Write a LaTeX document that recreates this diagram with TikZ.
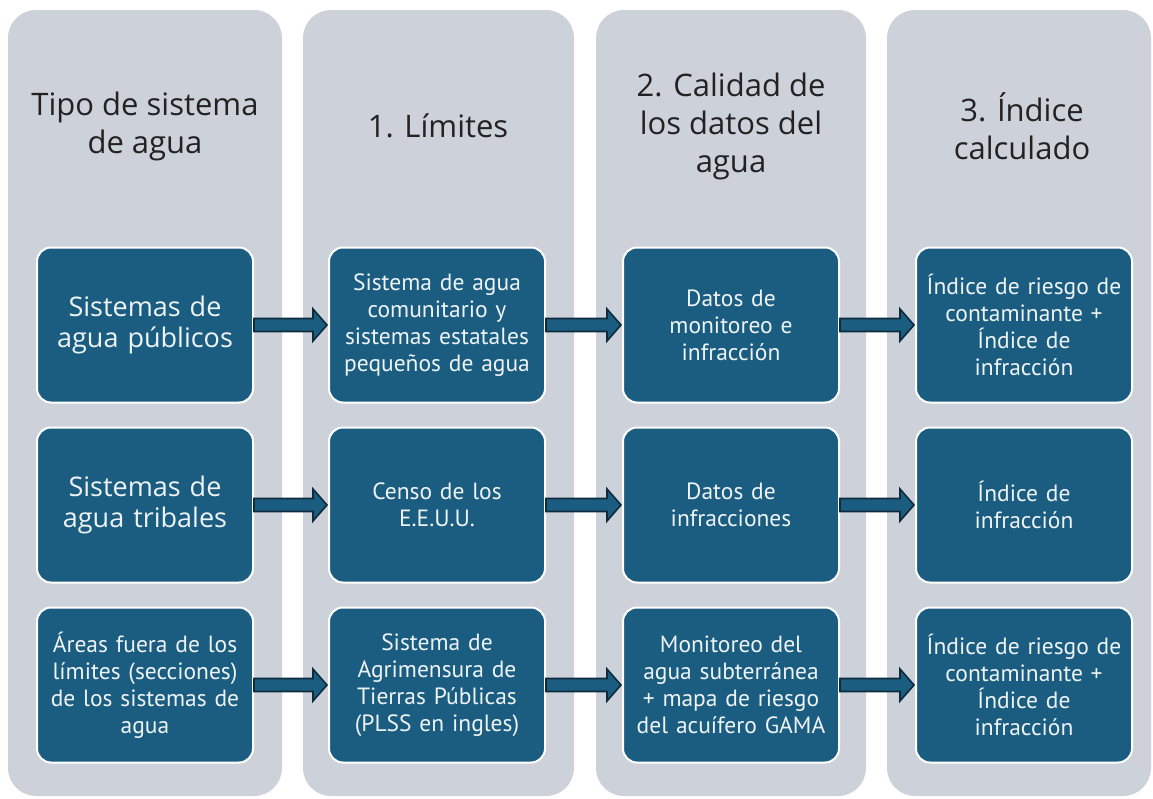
\documentclass[tikz,border=0pt]{standalone}
\usepackage{fontspec}
\setmainfont{Open Sans}
\newfontfamily\boxfont{PT Sans}
\usetikzlibrary{calc}
\definecolor{colbg}{HTML}{CDD2DA}
\definecolor{boxfill}{HTML}{1A5D80}
\definecolor{boxtext}{HTML}{EEF3F6}
\definecolor{headtext}{HTML}{222222}
\definecolor{arrowline}{HTML}{0E2B3C}
\tikzset{
  column/.style={fill=colbg, draw=none, rounded corners=28pt},
  header/.style={text=headtext, align=center, font=\fontsize{31}{38}\selectfont},
  stepbox/.style={fill=boxfill, draw=white, line width=2pt, rounded corners=14pt,
    minimum width=216pt, minimum height=155pt, text width=210pt, align=center,
    text=boxtext, inner sep=0pt},
  smalltext/.style={font=\boxfont\fontsize{23.5}{27}\selectfont},
  bigtext/.style={font=\fontsize{27}{31}\selectfont},
  blockarrow/.style={fill=boxfill, draw=arrowline, line width=1.6pt, line join=miter},
}
\newcommand{\blockarr}[2]{%
  \path (#1.east) coordinate (s) (#2.west) coordinate (t);
  \draw[blockarrow] ($(s)+(0,-6.5)$) -- ($(t)+(-15,-6.5)$) -- ($(t)+(-15,-16)$) -- ($(t)+(-1,0)$)
    -- ($(t)+(-15,16)$) -- ($(t)+(-15,6.5)$) -- ($(s)+(0,6.5)$) -- cycle;}
\begin{document}
\begin{tikzpicture}[x=1pt,y=-1pt]
\useasboundingbox (0,0) rectangle (1153,798);
% columns
\fill[column] (8,10) rectangle (282,796);
\fill[column] (303,10) rectangle (574,796);
\fill[column] (596,10) rectangle (866,796);
\fill[column] (887,10) rectangle (1151,796);
% headers
\node[header] (h1) at (145,126) {Tipo de sistema\\de agua};
\node[header] (h2) at (438,126) {1. Límites};
\node[header] (h3) at (731,126) {2. Calidad de\\los datos del\\agua};
\node[header] (h4) at (1022,126) {3. Índice\\calculado};
% row 1
\node[stepbox,bigtext] (a1) at (145,325) {Sistemas de\\agua públicos};
\node[stepbox,smalltext] (b1) at (437,325) {Sistema de agua\\comunitario y\\sistemas estatales\\pequeños de agua};
\node[stepbox,smalltext] (c1) at (731,325) {Datos de\\monitoreo e\\infracción};
\node[stepbox,smalltext] (d1) at (1024,325) {Índice de riesgo de\\contaminante +\\Índice de\\infracción};
% row 2
\node[stepbox,bigtext] (a2) at (145,505) {Sistemas de\\agua tribales};
\node[stepbox,smalltext] (b2) at (437,505) {Censo de los\\E.E.U.U.};
\node[stepbox,smalltext] (c2) at (731,505) {Datos de\\infracciones};
\node[stepbox,smalltext] (d2) at (1024,505) {Índice de\\infracción};
% row 3
\node[stepbox,smalltext] (a3) at (145,685) {Áreas fuera de los\\límites (secciones)\\de los sistemas de\\agua};
\node[stepbox,smalltext] (b3) at (437,685) {Sistema de\\Agrimensura de\\Tierras Públicas\\(PLSS en ingles)};
\node[stepbox,smalltext] (c3) at (731,685) {Monitoreo del\\agua subterránea\\+ mapa de riesgo\\del acuífero GAMA};
\node[stepbox,smalltext] (d3) at (1024,685) {Índice de riesgo de\\contaminante +\\Índice de\\infracción};
% arrows
\blockarr{a1}{b1}\blockarr{b1}{c1}\blockarr{c1}{d1}
\blockarr{a2}{b2}\blockarr{b2}{c2}\blockarr{c2}{d2}
\blockarr{a3}{b3}\blockarr{b3}{c3}\blockarr{c3}{d3}
\end{tikzpicture}
\end{document}
